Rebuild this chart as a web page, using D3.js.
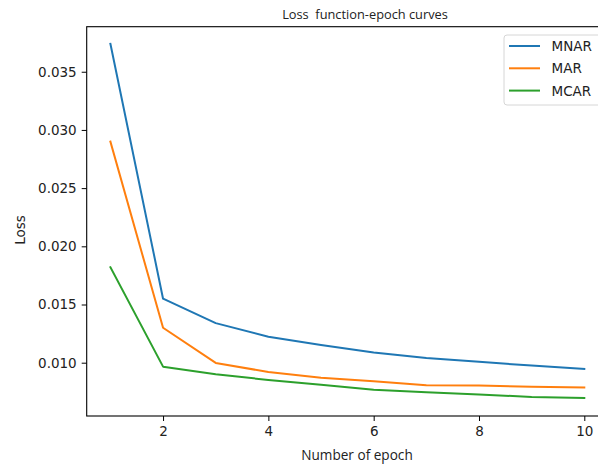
<!DOCTYPE html>
<html>
<head>
<meta charset="utf-8">
<script src="https://cdn.jsdelivr.net/npm/d3@7"></script>
<style>
  html, body { margin: 0; padding: 0; background: #fff; }
  svg { display: block; }
</style>
</head>
<body>
<svg id="chart" width="598" height="465"></svg>
<script>
const epochs = [1, 2, 3, 4, 5, 6, 7, 8, 9, 10];
const mnar = [0.0374, 0.0155, 0.01340, 0.01223, 0.01152, 0.01088, 0.01040, 0.01008, 0.00975, 0.00946];
const mar  = [0.0290, 0.0130, 0.00998, 0.00920, 0.00870, 0.00840, 0.00806, 0.00803, 0.00794, 0.00786];
const mcar = [0.0182, 0.00966, 0.00900, 0.00852, 0.00810, 0.00768, 0.00746, 0.00726, 0.00706, 0.00697];
const xTicks = [2, 4, 6, 8, 10];
const yTicks = [0.010, 0.015, 0.020, 0.025, 0.030, 0.035];
const seriesNames = ["MNAR", "MAR", "MCAR"];
const seriesColors = ["#1f77b4", "#ff7f0e", "#2ca02c"];
const titleText = "Loss  function-epoch curves";
const xLabelText = "Number of epoch";
const yLabelText = "Loss";

const svg = d3.select("#chart");
const L = 86.7, R = 608, T = 26.7, B = 416;

const x = d3.scaleLinear().domain([0.55, 10.45]).range([L, R]);
const y = d3.scaleLinear().domain([0.00542, 0.03887]).range([B, T]);

const tickFont = "DejaVu Sans, sans-serif";

// Axes
const xAxis = d3.axisBottom(x).tickValues(xTicks).tickFormat(d3.format("d")).tickSize(5).tickPadding(5);
const yAxis = d3.axisLeft(y).tickValues(yTicks).tickFormat(d3.format(".3f")).tickSize(5).tickPadding(5);

const gx = svg.append("g").attr("transform", `translate(0,${B})`).call(xAxis);
const gy = svg.append("g").attr("transform", `translate(${L},0)`).call(yAxis);
[gx, gy].forEach(g => {
  g.select(".domain").remove();
  g.selectAll(".tick line").attr("stroke", "#000").attr("stroke-width", 1);
  g.selectAll(".tick text").attr("fill", "#222").style("font-family", tickFont).style("font-size", "13.5px");
});

// Spines
svg.append("rect").attr("x", L).attr("y", T).attr("width", R - L).attr("height", B - T)
  .attr("fill", "none").attr("stroke", "#000").attr("stroke-width", 1.1);

// Lines
const series = [mnar, mar, mcar];
const line = d3.line().x((d, i) => x(epochs[i])).y(d => y(d));
series.forEach((s, k) => {
  svg.append("path").datum(s).attr("d", line)
    .attr("fill", "none").attr("stroke", seriesColors[k]).attr("stroke-width", 2)
    .attr("stroke-linejoin", "round").attr("stroke-linecap", "square");
});

// Legend
const lg = svg.append("g");
lg.append("rect").attr("x", 504).attr("y", 35).attr("width", 97).attr("height", 70)
  .attr("rx", 3).attr("fill", "#fff").attr("fill-opacity", 0.8)
  .attr("stroke", "#d6d6d6").attr("stroke-width", 1);
seriesNames.forEach((n, k) => {
  const yy = 46 + k * 22.3;
  lg.append("line").attr("x1", 509).attr("x2", 540).attr("y1", yy).attr("y2", yy)
    .attr("stroke", seriesColors[k]).attr("stroke-width", 2);
  lg.append("text").attr("x", 551.5).attr("y", yy + 5).text(n)
    .attr("fill", "#222").style("font-family", tickFont).style("font-size", "13.5px");
});

// Title & labels
svg.append("text").attr("x", 365).attr("y", 19).attr("text-anchor", "middle").text(titleText)
  .attr("fill", "#222").style("white-space", "pre").attr("xml:space", "preserve")
  .style("font-family", "Open Sans, sans-serif").style("font-size", "12.8px");
svg.append("text").attr("x", 357).attr("y", 460).attr("text-anchor", "middle").text(xLabelText)
  .attr("fill", "#222").style("font-family", "Open Sans, sans-serif").style("font-size", "13.6px");
svg.append("text").attr("transform", "translate(25,230) rotate(-90)").attr("text-anchor", "middle").text(yLabelText)
  .attr("fill", "#222").style("font-family", tickFont).style("font-size", "13.5px");
</script>
</body>
</html>
